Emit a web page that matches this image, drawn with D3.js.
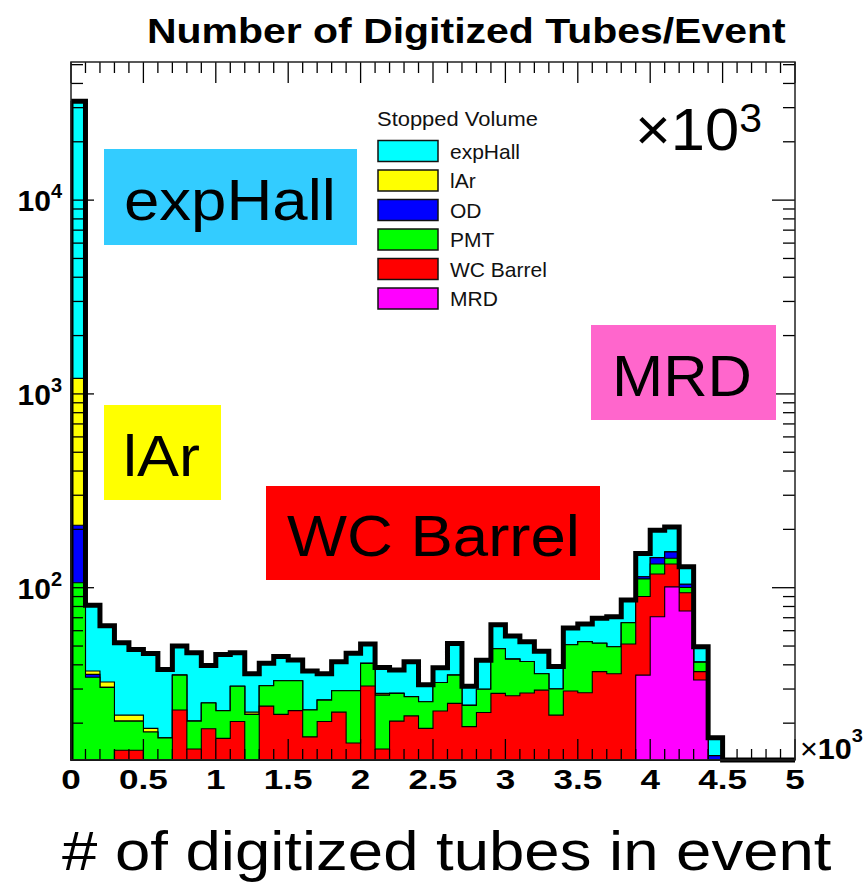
<!DOCTYPE html>
<html><head><meta charset="utf-8">
<script src="https://cdn.jsdelivr.net/npm/d3@7"></script>
<style>html,body{margin:0;padding:0;background:#fff;}svg{display:block}</style>
</head><body>
<svg id="c" width="864" height="889"></svg>
<script>
// ---------------- data ----------------
const binLow = d3.range(0, 5000, 100);            // 50 bins of width 100 tubes
const stackKeys = ["MRD", "WC Barrel", "PMT", "OD", "lAr", "expHall"]; // bottom -> top
const legendKeys = ["expHall", "lAr", "OD", "PMT", "WC Barrel", "MRD"];
const xTickValues = [0, 500, 1000, 1500, 2000, 2500, 3000, 3500, 4000, 4500, 5000];
const xTickLabels = ["0", "0.5", "1", "1.5", "2", "2.5", "3", "3.5", "4", "4.5", "5"];
const yTickExps = [2, 3, 4];

const MRD = [
  0,0,0,0,0,0,0,0,0,0,
  0,0,0,0,0,0,0,0,0,0,
  0,0,0,0,0,0,0,0,0,0,
  0,0,0,0,0,0,0,0,0,35.4,
  70.8,101,75.8,33.4,0,0,0,0,0,0];
const WC = [
  0,0,0,14.5,14.5,0,0,23.4,14.7,18.7,
  16.7,20.4,0,24.5,22.2,23.2,17,20.4,22.8,15.8,
  31.1,14.7,20.5,21.8,18.8,23.1,25.3,19.2,22.7,28.5,
  27.7,28.6,29.6,22,29.3,28.7,36.9,36,51.2,54.6,
  46.9,31.5,18.4,3.5,0,0,0,0,0,0];
const PMT = [
  106,34.5,30.6,6,6,18,16.8,12,5.8,6.7,
  6.5,10.6,22.2,6.7,10.9,9.9,6.4,5.9,6.6,13.6,
  9.6,13.2,8,5.6,7,9.3,10.1,5.5,7.2,19.9,
  15.1,13,6.4,8,21.5,24,14.8,13.6,14.8,21,
  14.8,9.5,6,4.4,0,0,0,0,0,0];
const OD = [
  104,1.2,0,0,0,0,0,0,0,0,
  0,0,0,0,0,0,0,0,0,0,
  0,0,0,0,0,0,0,0,0,0,
  0,0,0,0,0,0,0,0,0,3,
  10.5,11,4,0,13.6,0,0,0,0,0];
const LAR = [
  993,1.5,2,1.5,1.5,0.8,0,0,0,0,
  0,0,0.6,0,0,0,0,0,0,0,
  0,0.6,0,0,0,0,0,0,0,0,
  0,0,0,0,0,0,0,0,0,0,
  0,0,0,0,0,0,0,0,0,0];
const EXPHALL = [
  31200,44,31,30,26,27,21,14.6,25.7,14.3,
  22,15.2,13.2,9.5,11,9.3,13.8,9.7,12.1,16.5,
  10.5,10.3,9.1,14.1,5.8,6.2,16.1,6.3,12.3,16,
  13.6,11,11,9.2,11.2,12.3,17.8,21.2,20.4,36,
  55,53,24,8.3,3.2,0,0,0,0,0];

const seriesData = {"MRD": MRD, "WC Barrel": WC, "PMT": PMT, "OD": OD, "lAr": LAR, "expHall": EXPHALL};
const colors = {"expHall":"#00ffff","lAr":"#ffff00","OD":"#0000ff","PMT":"#00ff00","WC Barrel":"#ff0000","MRD":"#ff00ff"};

// annotations (label, box colour)
const annotations = [
  {text:"expHall", color:"#33ccff", box:[104,149,357,245], tx:[124,336], base:220},
  {text:"lAr", color:"#ffff00", box:[104,405,221,500], tx:[123,200], base:476},
  {text:"WC Barrel", color:"#ff0000", box:[266,486,600,580], tx:[287,580], base:556},
  {text:"MRD", color:"#ff66cc", box:[591,325,776,420], tx:[612,752], base:396}
];

// ---------------- layout ----------------
const FONT = "'Liberation Sans', Arial, Helvetica, sans-serif";
const X0=71, X1=795, YT=62, YB=760;
const yMin = 12.91, yMax = 51610;
const x = d3.scaleLinear().domain([0,5000]).range([X0,X1]);
const y = d3.scaleLog().domain([yMin,yMax]).range([YB,YT]);
const yc = v => y(Math.max(v, yMin));

const svg = d3.select("#c");
svg.append("rect").attr("width",864).attr("height",889).attr("fill","#fff");
svg.append("defs").append("clipPath").attr("id","clip")
  .append("rect").attr("x",X0).attr("y",0).attr("width",X1-X0).attr("height",YB+8);

function fit(sel, x0, x1){
  const bb = sel.node().getBBox();
  const sx = (x1-x0)/bb.width;
  sel.attr("transform", `translate(${x0},0) scale(${sx},1) translate(${-bb.x},0)`);
}
function scaleAround(sel, cx, s){
  sel.attr("transform", `translate(${cx},0) scale(${s},1) translate(${-cx},0)`);
}

// ---------------- stacked histogram ----------------
const table = binLow.map((b,i)=>{
  const row = {bin:b};
  stackKeys.forEach(k=>row[k]=seriesData[k][i]);
  return row;
});
const stacked = d3.stack().keys(stackKeys)(table);
const area = d3.area().curve(d3.curveStepAfter)
  .x(d=>x(d.x)).y0(YB).y1(d=>yc(d.v));
const gh = svg.append("g");
for (let k = stacked.length-1; k >= 0; k--){
  const layer = stacked[k];
  const pts = layer.map((d,i)=>({x:binLow[i], v:d[1]}));
  pts.push({x:5000, v:layer[layer.length-1][1]});
  gh.append("path").attr("d", area(pts))
    .attr("fill", colors[layer.key]).attr("stroke","#000").attr("stroke-width",1.1);
}
// total outline (thick)
const totals = table.map(r=>d3.sum(stackKeys, k=>r[k]));
const linePts = [{x:0,v:yMin}].concat(binLow.map((b,i)=>({x:b,v:totals[i]})),
  [{x:5000,v:totals[totals.length-1]},{x:5000,v:yMin}]);
svg.append("path").attr("clip-path","url(#clip)")
  .attr("d", d3.line().curve(d3.curveStepAfter).x(d=>x(d.x)).y(d=>yc(d.v))(linePts))
  .attr("fill","none").attr("stroke","#000").attr("stroke-width",5).attr("stroke-linejoin","miter");

// ---------------- axes ----------------
const ga = svg.append("g").attr("stroke","#000").attr("stroke-width",1.3);
const yTicks = [];
for (let d=1; d<=4; d++) for (let m=1; m<=9; m++){
  const v = m*Math.pow(10,d);
  if (v>=yMin && v<=yMax) yTicks.push({v, major:m===1});
}
yTicks.forEach(t=>{
  const len = t.major?23:12, yy=y(t.v);
  ga.append("line").attr("x1",X0).attr("x2",X0+len).attr("y1",yy).attr("y2",yy);
  ga.append("line").attr("x1",X1).attr("x2",X1-len).attr("y1",yy).attr("y2",yy);
});
d3.range(0,5001,100).forEach(v=>{
  const len = v%500===0?21:11, xx=x(v);
  ga.append("line").attr("x1",xx).attr("x2",xx).attr("y1",YB).attr("y2",YB-len);
  ga.append("line").attr("x1",xx).attr("x2",xx).attr("y1",YT).attr("y2",YT+len);
});
svg.append("rect").attr("x",X0).attr("y",YT).attr("width",X1-X0).attr("height",YB-YT)
  .attr("fill","none").attr("stroke","#222").attr("stroke-width",1.5);

// x tick labels
xTickValues.forEach((v,i)=>{
  const t = svg.append("text").attr("x",x(v)).attr("y",789).attr("text-anchor","middle")
    .attr("font-family",FONT).attr("font-weight","bold").attr("font-size",27).attr("fill","#000")
    .text(xTickLabels[i]);
  scaleAround(t, x(v), 1.3);
});
// y tick labels
yTickExps.forEach(e=>{
  const yy = y(Math.pow(10,e));
  const t = svg.append("text").attr("x",62).attr("y",yy+11).attr("text-anchor","end")
    .attr("font-family",FONT).attr("font-weight","bold").attr("font-size",30).attr("fill","#000");
  t.append("tspan").text("10");
  t.append("tspan").attr("dy",-13).attr("font-size",20).text(String(e));
});
// x exponent label
{
  const t = svg.append("text").attr("x",800).attr("y",759)
    .attr("font-family",FONT).attr("font-weight","bold").attr("font-size",29).attr("fill","#000");
  t.append("tspan").attr("font-weight","normal").text("\u00d7");
  t.append("tspan").text("10");
  t.append("tspan").attr("dy",-17).attr("font-size",19).text("3");
  fit(t, 800, 863);
}
// in-frame exponent label
{
  const t = svg.append("text").attr("x",635).attr("y",150)
    .attr("font-family",FONT).attr("font-size",60).attr("fill","#000");
  t.append("tspan").text("\u00d710");
  t.append("tspan").attr("dy",-18).attr("font-size",40).text("3");
  fit(t, 635, 762);
}

// title
{
  const t = svg.append("text").attr("x",147).attr("y",43)
    .attr("font-family",FONT).attr("font-weight","bold").attr("font-size",36).attr("fill","#000")
    .text("Number of Digitized Tubes/Event");
  fit(t, 147, 786);
}
// x axis title
{
  const t = svg.append("text").attr("x",62).attr("y",870)
    .attr("font-family",FONT).attr("font-size",56).attr("fill","#000")
    .text("# of digitized tubes in event");
  fit(t, 62, 832);
}

// annotations
annotations.forEach(a=>{
  svg.append("rect").attr("x",a.box[0]).attr("y",a.box[1])
    .attr("width",a.box[2]-a.box[0]).attr("height",a.box[3]-a.box[1]).attr("fill",a.color);
  const t = svg.append("text").attr("x",a.tx[0]).attr("y",a.base)
    .attr("font-family",FONT).attr("font-size",58).attr("fill","#000").text(a.text);
  fit(t, a.tx[0], a.tx[1]);
});

// legend
{
  const h = svg.append("text").attr("x",377).attr("y",126)
    .attr("font-family",FONT).attr("font-size",21).attr("fill","#111").text("Stopped Volume");
  fit(h, 377, 538);
  legendKeys.forEach((k,i)=>{
    const cy = 151 + i*29.5;
    svg.append("rect").attr("x",378).attr("y",cy-10.5).attr("width",60).attr("height",21)
      .attr("fill",colors[k]).attr("stroke","#111").attr("stroke-width",1.5);
    svg.append("text").attr("x",450).attr("y",cy+7.5)
      .attr("font-family",FONT).attr("font-size",21).attr("fill","#111").text(k);
  });
}
</script>
</body></html>
